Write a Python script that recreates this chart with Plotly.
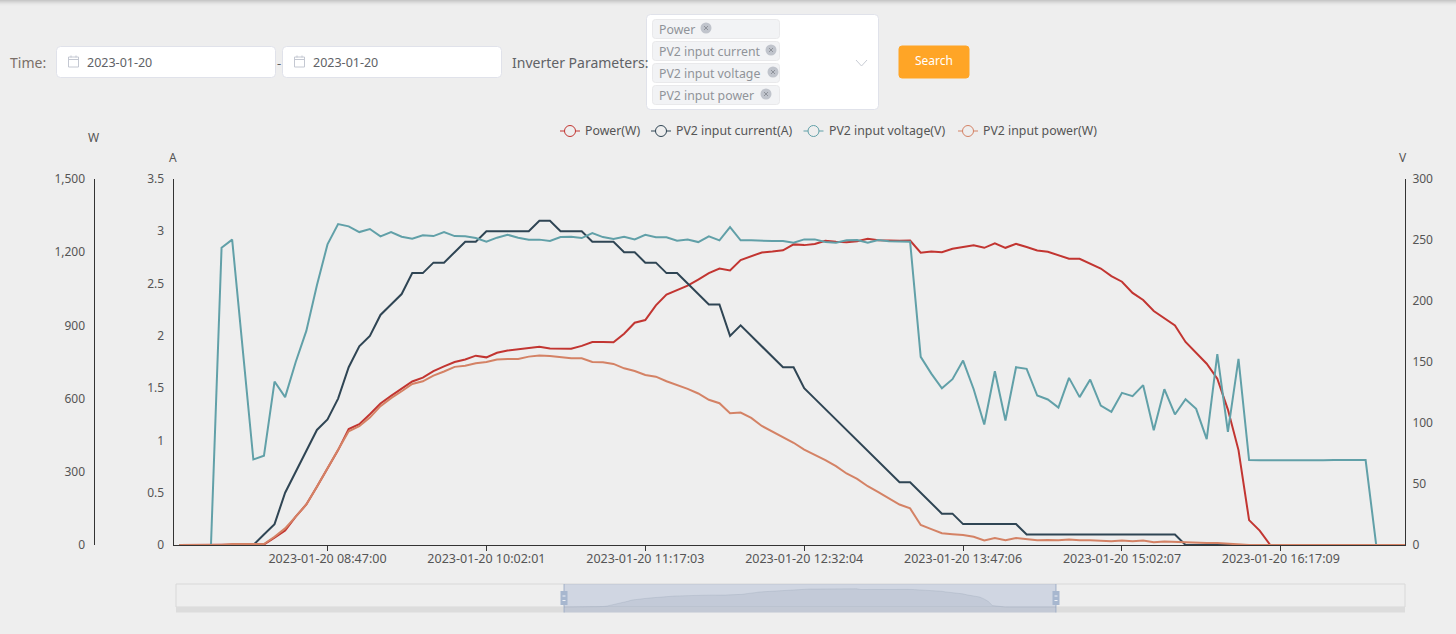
import plotly.graph_objects as go

# inverter readings, 5 minute samples
TIMES = [
    "07:36:59", "07:41:59", "07:46:59", "07:51:59", "07:56:59", "08:01:59", "08:06:59", "08:12:00",
    "08:17:00", "08:22:00", "08:27:00", "08:32:00", "08:37:00", "08:42:00", "08:47:00", "08:52:00",
    "08:57:00", "09:02:00", "09:07:00", "09:12:00", "09:17:00", "09:22:00", "09:27:01", "09:32:01",
    "09:37:01", "09:42:01", "09:47:01", "09:52:01", "09:57:01", "10:02:01", "10:07:01", "10:12:01",
    "10:17:01", "10:22:02", "10:27:02", "10:32:02", "10:37:02", "10:42:02", "10:47:02", "10:52:02",
    "10:57:02", "11:02:03", "11:07:03", "11:12:03", "11:17:03", "11:22:03", "11:27:03", "11:32:03",
    "11:37:03", "11:42:03", "11:47:03", "11:52:04", "11:57:04", "12:02:04", "12:07:04", "12:12:04",
    "12:17:04", "12:22:04", "12:27:04", "12:32:04", "12:37:04", "12:42:05", "12:47:05", "12:52:05",
    "12:57:05", "13:02:05", "13:07:05", "13:12:05", "13:17:05", "13:22:05", "13:27:05", "13:32:06",
    "13:37:06", "13:42:06", "13:47:06", "13:52:06", "13:57:06", "14:02:06", "14:07:06", "14:12:06",
    "14:17:06", "14:22:06", "14:27:07", "14:32:07", "14:37:07", "14:42:07", "14:47:07", "14:52:07",
    "14:57:07", "15:02:07", "15:07:07", "15:12:08", "15:17:08", "15:22:08", "15:27:08", "15:32:08",
    "15:37:08", "15:42:08", "15:47:08", "15:52:08", "15:57:08", "16:02:09", "16:07:09", "16:12:09",
    "16:17:09", "16:22:09", "16:27:09", "16:32:09", "16:37:09", "16:42:09", "16:47:09", "16:52:10",
    "16:57:10", "17:02:10", "17:07:10", "17:12:10", "17:17:10",
]
CATEGORIES = ["2023-01-20 " + t for t in TIMES]
TICK_LABELS = [
    "2023-01-20 08:47:00", "2023-01-20 10:02:01", "2023-01-20 11:17:03", "2023-01-20 12:32:04",
    "2023-01-20 13:47:06", "2023-01-20 15:02:07", "2023-01-20 16:17:09",
]

POWER = [
    0, 0, 0, 0, 0, 0, 0, 0, 2, 30, 59, 116, 166, 239, 314, 389, 475, 495, 536, 580,
    611, 640, 670, 686, 713, 732, 750, 760, 776, 769, 788, 797, 801, 807, 812, 805, 805, 804, 816, 832,
    832, 831, 866, 911, 922, 982, 1026, 1046, 1063, 1088, 1114, 1133, 1125, 1168, 1184, 1199, 1203, 1208, 1232, 1229,
    1234, 1247, 1243, 1241, 1245, 1255, 1249, 1247, 1247, 1248, 1198, 1203, 1200, 1214, 1222, 1228, 1218, 1236, 1218, 1234,
    1221, 1207, 1202, 1187, 1173, 1173, 1154, 1133, 1102, 1079, 1033, 1004, 959, 929, 900, 832, 788, 743, 682, 555,
    389, 102, 59, 0, 0, 0, 0, 0, 0, 0, 0, 0, 0, 0, 0, 0, 0,
]
PV2_CURRENT = [
    0, 0, 0, 0, 0, 0, 0, 0, 0.1, 0.2, 0.5, 0.7, 0.9, 1.1, 1.2, 1.4, 1.7, 1.9, 2.0, 2.2,
    2.3, 2.4, 2.6, 2.6, 2.7, 2.7, 2.8, 2.9, 2.9, 3.0, 3.0, 3.0, 3.0, 3.0, 3.1, 3.1, 3.0, 3.0, 3.0, 2.9,
    2.9, 2.9, 2.8, 2.8, 2.7, 2.7, 2.6, 2.6, 2.5, 2.4, 2.3, 2.3, 2.0, 2.1, 2.0, 1.9, 1.8, 1.7, 1.7, 1.5,
    1.4, 1.3, 1.2, 1.1, 1.0, 0.9, 0.8, 0.7, 0.6, 0.6, 0.5, 0.4, 0.3, 0.3, 0.2, 0.2, 0.2, 0.2, 0.2, 0.2,
    0.1, 0.1, 0.1, 0.1, 0.1, 0.1, 0.1, 0.1, 0.1, 0.1, 0.1, 0.1, 0.1, 0.1, 0.1, 0, 0, 0, 0, 0,
    0, 0, 0, 0, 0, 0, 0, 0, 0, 0, 0, 0, 0, 0, 0, 0, 0,
]
PV2_VOLTAGE = [
    0, 0, 0, 0, 243.7, 250.3, 160.2, 70.1, 73.1, 134, 121.2, 150, 175.5, 212.9, 246.4, 263.1, 261.2, 256.5, 259, 253,
    256.5, 252.7, 251, 253.8, 253.2, 256.5, 253.2, 253, 251.6, 248.6, 251.9, 254.3, 251.9, 250.3, 250.3, 249.2, 252.4, 252.7, 251.6, 255.7,
    252.4, 250.8, 252.7, 250.5, 254.3, 252.2, 252.2, 249.4, 250.3, 248.3, 253, 249.7, 260.6, 249.7, 249.7, 249.2, 249.2, 249.2, 247.8, 250.5,
    250.5, 248.3, 247.8, 249.7, 250, 247.8, 250, 248.9, 248.9, 248.6, 154.2, 140.5, 128.5, 135.9, 151.2, 127.7, 98.8, 142.4, 102, 145.7,
    144.4, 122.5, 119.3, 112.7, 137, 121.2, 135.6, 114.3, 109.2, 124.7, 122, 131, 94.1, 127.7, 107, 119.5, 111.6, 86.8, 156.4, 92.8,
    152.6, 69.6, 69.5, 69.4, 69.5, 69.6, 69.6, 69.6, 69.4, 69.7, 69.6, 69.5, 69.6, 0, 0, 0, 0,
]
PV2_POWER = [
    0, 0, 0, 0, 0, 4, 5, 4, 4, 34, 68, 116, 166, 239, 314, 386, 466, 487, 522, 569,
    602, 630, 660, 671, 694, 711, 730, 735, 745, 750, 760, 762, 762, 772, 777, 775, 771, 765, 765, 750,
    749, 742, 724, 713, 697, 690, 671, 656, 640, 621, 595, 581, 540, 543, 521, 488, 465, 443, 419, 391,
    371, 348, 323, 293, 271, 241, 217, 191, 166, 150, 82, 65, 48, 44, 41, 34, 19, 29, 20, 29,
    25, 19, 20, 19, 23, 19, 19, 16, 15, 18, 15, 18, 11, 14, 12, 10, 8, 8, 8, 5,
    3, 0, 0, 0, 0, 0, 0, 0, 0, 0, 0, 0, 0, 0, 0, 0, 0,
]

POWER_TICKS = [0, 300, 600, 900, 1200, 1500]
CURRENT_TICKS = [0, 0.5, 1, 1.5, 2, 2.5, 3, 3.5]
CURRENT_TEXT = ["0", "0.5", "1", "1.5", "2", "2.5", "3", "3.5"]
VOLTAGE_TICKS = [0, 50, 100, 150, 200, 250, 300]

RED = "#c23531"
NAVY = "#2f4554"
TEAL = "#61a0a8"
ORANGE = "#d48265"
BG = "#eeeeee"
AXIS = "#333333"
LABEL = "#555555"
FONT = "Noto Sans"

W, H = 1456, 634


def fx(px):
    return px / W


def fy(py):
    return 1 - py / H


fig = go.Figure()

# plotly stacks overlaid axes by number, so the axis ids set the draw order:
# y = W (red), y2 = A (navy), y3 = V (teal), y5 = hidden copy of W (orange on top)
series = [
    ("Power(W)", POWER, RED, "y"),
    ("PV2 input current(A)", PV2_CURRENT, NAVY, "y2"),
    ("PV2 input voltage(V)", PV2_VOLTAGE, TEAL, "y3"),
    ("PV2 input power(W)", PV2_POWER, ORANGE, "y5"),
]

# slider preview
fig.add_trace(go.Scatter(
    x=CATEGORIES, y=POWER, xaxis="x2", yaxis="y4", mode="lines", showlegend=False,
    line=dict(color="rgba(47,69,84,0.1)", width=1), fill="tozeroy", fillcolor="rgba(47,69,84,0.09)",
    hoverinfo="skip",
))

for name, values, color, axis in series:
    fig.add_trace(go.Scatter(
        x=CATEGORIES, y=values, yaxis=axis, mode="lines", name=name, showlegend=False,
        line=dict(color=color, width=2),
    ))

shapes = []
annotations = []


def box(x0, y0, x1, y1, fill, line=None, layer="below", width=1):
    shapes.append(dict(
        type="rect", xref="paper", yref="paper", x0=fx(x0), x1=fx(x1), y0=fy(y0), y1=fy(y1),
        fillcolor=fill, line=dict(color=line or fill, width=width if line else 0), layer=layer,
    ))


def rounded(x0, y0, x1, y1, r, fill, line):
    path = (
        f"M {fx(x0 + r)} {fy(y0)} L {fx(x1 - r)} {fy(y0)} Q {fx(x1)} {fy(y0)} {fx(x1)} {fy(y0 + r)} "
        f"L {fx(x1)} {fy(y1 - r)} Q {fx(x1)} {fy(y1)} {fx(x1 - r)} {fy(y1)} "
        f"L {fx(x0 + r)} {fy(y1)} Q {fx(x0)} {fy(y1)} {fx(x0)} {fy(y1 - r)} "
        f"L {fx(x0)} {fy(y0 + r)} Q {fx(x0)} {fy(y0)} {fx(x0 + r)} {fy(y0)} Z"
    )
    shapes.append(dict(type="path", xref="paper", yref="paper", path=path, fillcolor=fill,
                       line=dict(color=line, width=1), layer="below"))


def segment(x0, y0, x1, y1, color, width=1):
    shapes.append(dict(type="line", xref="paper", yref="paper", x0=fx(x0), x1=fx(x1), y0=fy(y0), y1=fy(y1),
                       line=dict(color=color, width=width), layer="below"))


def dot(cx, cy, r, fill, line=None):
    shapes.append(dict(type="circle", xref="paper", yref="paper", x0=fx(cx - r), x1=fx(cx + r),
                       y0=fy(cy + r), y1=fy(cy - r), fillcolor=fill,
                       line=dict(color=line or fill, width=1 if line else 0), layer="below"))


def label(x, y, text, size=14, color="#606266", anchor="left"):
    annotations.append(dict(
        x=fx(x), y=fy(y), xref="paper", yref="paper", text=text, showarrow=False, xanchor=anchor, yanchor="middle",
        font=dict(family=FONT, size=size, color=color), borderpad=0, borderwidth=0,
    ))


# top bar shadow
for i, c in enumerate(["#c8c8c8", "#d2d2d2", "#dbdbdb", "#e3e3e3", "#e9e9e9", "#ececec"]):
    box(0, i, W, i + 1, c)

# date filter
label(10, 62, "Time:", 14, "#7a6f68")
for left, right in [(56.5, 275.5), (282.5, 501.5)]:
    rounded(left, 46.5, right, 77.5, 4, "#ffffff", "#e0e2ea")
    cx = left + 17
    box(cx - 5, 57, cx + 5, 67, "#ffffff", "#c4c8d2")
    segment(cx - 5, 59.5, cx + 5, 59.5, "#c4c8d2")
    segment(cx - 2.5, 55.5, cx - 2.5, 57.5, "#c4c8d2")
    segment(cx + 2.5, 55.5, cx + 2.5, 57.5, "#c4c8d2")
    label(left + 30, 62, "2023-01-20", 12.5, "#606266")
label(276.5, 63, "-", 13, "#606266")

# parameter select
label(512, 62, "Inverter Parameters:", 14, "#606266")
rounded(646.5, 14.5, 878.5, 109.5, 4, "#ffffff", "#e0e2ea")
tags = [("Power", 29, 706), ("PV2 input current", 51, 771), ("PV2 input voltage", 73, 773), ("PV2 input power", 95, 766)]
for text, cy, close_x in tags:
    rounded(652.5, cy - 9.5, 779.5, cy + 9.5, 3, "#f2f3f5", "#e9e9eb")
    label(659, cy + 0.5, text, 12.3, "#909399")
    dot(close_x, cy - 1, 5.5, "#c0c4cc")
    segment(close_x - 2, cy - 3, close_x + 2, cy + 1, "#8f939b")
    segment(close_x - 2, cy + 1, close_x + 2, cy - 3, "#8f939b")
segment(856, 60, 861.5, 66, "#c8ccd4")
segment(861.5, 66, 867, 60, "#c8ccd4")

# search button
rounded(899, 46, 969, 78, 3, "#ffa526", "#ffa526")
label(934, 61, "Search", 12, "#ffffff", "center")

# legend, echarts style line + open circle
legend_x = [560, 651, 803.5, 958]
for (name, values, color, axis), lx in zip(series, legend_x):
    segment(lx, 131, lx + 20, 131, color)
    dot(lx + 10, 131, 5.5, BG, color)
    label(lx + 25, 130.5, name, 12.3, LABEL)

# axis units
label(93, 137.5, "W", 12, LABEL, "center")
label(173, 157.5, "A", 12, LABEL, "center")
label(1403, 157.5, "V", 12, LABEL, "center")

# data zoom slider
box(176, 584, 1405, 607, BG, "#d8d8d8")
box(176, 607, 1405, 612.5, "#dcdcdc")
box(564, 584, 1056, 612.5, "rgba(120,145,190,0.25)", layer="above")
for hx in (564, 1056):
    segment(hx, 584, hx, 612.5, "#a9b6c9")
    box(hx - 3.5, 591, hx + 3.5, 605, "#a7b7cf", layer="above")
    box(hx - 1.5, 595.5, hx + 1.5, 596.5, "#eef1f6", layer="above")
    box(hx - 1.5, 600, hx + 1.5, 601, "#eef1f6", layer="above")

PLOT_L, PLOT_R, PLOT_T, PLOT_B = 173.5, 1405, 179, 545
STEP = 10.593
FIRST_X = 179.2
SLIDER_L, SLIDER_R, SLIDER_T, SLIDER_B = 176, 1405, 584, 612.5
SLIDE_STEP = 492 / 116
TICK_FONT = dict(family=FONT, size=12, color=LABEL)

fig.update_layout(
    width=W, height=H, autosize=False,
    margin=dict(l=0, r=0, t=0, b=0),
    paper_bgcolor=BG, plot_bgcolor=BG,
    font=dict(family=FONT, size=12, color=LABEL),
    shapes=shapes, annotations=annotations,
    showlegend=False,
    hovermode="x unified",
    xaxis=dict(
        domain=[fx(PLOT_L), fx(PLOT_R)], type="category", categoryorder="array", categoryarray=CATEGORIES,
        range=[(PLOT_L - FIRST_X) / STEP, (PLOT_R - FIRST_X) / STEP], automargin=False,
        tickmode="array", tickvals=TICK_LABELS, ticktext=TICK_LABELS, ticks="outside", ticklen=5,
        tickcolor=AXIS, showgrid=False, zeroline=False, showline=True, linecolor=AXIS, linewidth=1,
        tickfont=dict(family=FONT, size=12.5, color=LABEL), tickangle=0, fixedrange=True,
        ticklabelstandoff=-3,
    ),
    yaxis=dict(
        domain=[fy(PLOT_B), fy(PLOT_T)], anchor="free", position=fx(93.5), side="left",
        range=[0, 1500], tickvals=POWER_TICKS, automargin=False, ticklabelstandoff=6,
        tickformat=",d", showgrid=False, zeroline=False, showline=True, linecolor=AXIS, linewidth=1, ticks="",
        tickfont=TICK_FONT, fixedrange=True,
    ),
    yaxis2=dict(
        overlaying="y", anchor="x", side="left", range=[0, 3.5], tickvals=CURRENT_TICKS, ticktext=CURRENT_TEXT,
        automargin=False, ticklabelstandoff=6,
        showgrid=False, zeroline=False, showline=True, linecolor=AXIS, linewidth=1, ticks="",
        tickfont=TICK_FONT, fixedrange=True,
    ),
    yaxis3=dict(
        overlaying="y", anchor="x", side="right", range=[0, 300], tickvals=VOLTAGE_TICKS,
        automargin=False, ticklabelstandoff=4,
        showgrid=False, zeroline=False, showline=True, linecolor=AXIS, linewidth=1, ticks="",
        tickfont=TICK_FONT, fixedrange=True,
    ),
    yaxis5=dict(
        overlaying="y", anchor="x", range=[0, 1500], visible=False, fixedrange=True, automargin=False,
    ),
    xaxis2=dict(
        domain=[fx(SLIDER_L), fx(SLIDER_R)], type="category", categoryorder="array", categoryarray=CATEGORIES,
        range=[(SLIDER_L - 564) / SLIDE_STEP, (SLIDER_R - 564) / SLIDE_STEP],
        anchor="y4", visible=False, fixedrange=True, automargin=False,
    ),
    yaxis4=dict(
        domain=[fy(SLIDER_B), fy(SLIDER_T)], anchor="x2", visible=False, fixedrange=True, automargin=False,
        range=[-(SLIDER_B - 607) * 1300 / 19, (607 - SLIDER_T) * 1300 / 19],
    ),
)

fig.write_html(
    "out.html",
    config={"displayModeBar": False},
    post_script=f"document.body.style.margin='0';document.body.style.background='{BG}';",
)
